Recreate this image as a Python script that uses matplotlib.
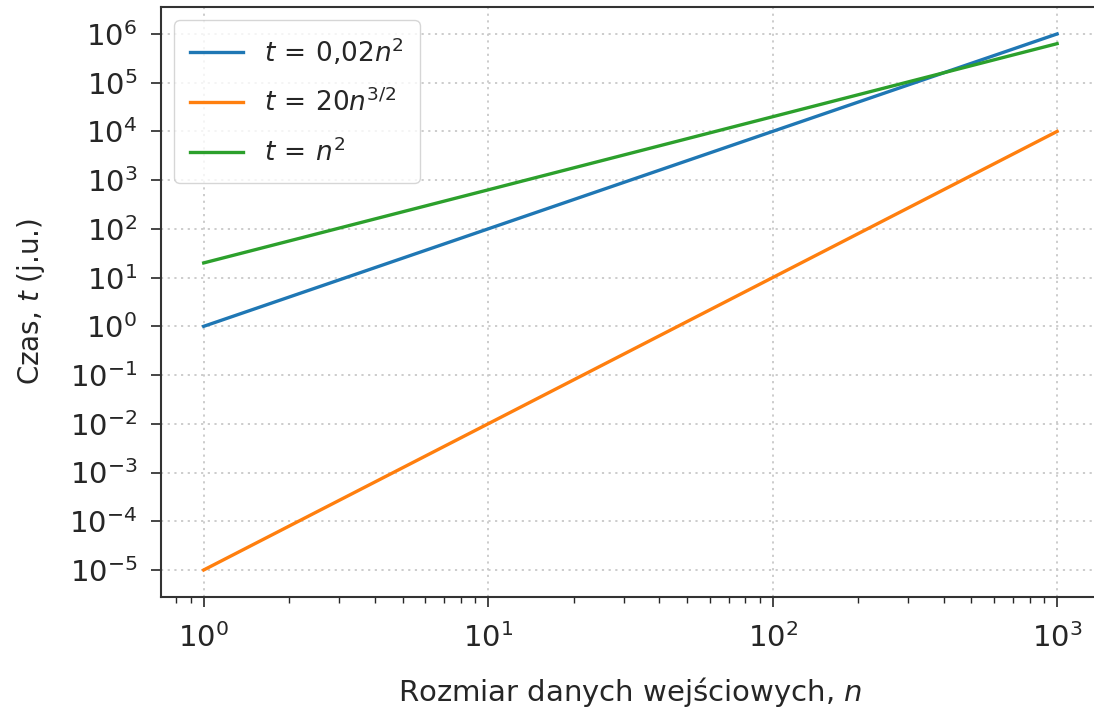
import matplotlib
matplotlib.use("Agg")
import matplotlib.pyplot as plt
from matplotlib.ticker import LogLocator, NullLocator

n = [1, 10, 100, 1000]
t_blue = [1.0, 1e2, 1e4, 1e6]
t_orange = [1e-5, 1e-2, 1e1, 1e4]
t_green = [20.0, 632.0, 2.0e4, 6.32e5]

labels = [r"$t\,=\,0{,}02n^2$", r"$t\,=\,20n^{3/2}$", r"$t\,=\,n^2$"]

text_color = "#262626"
plt.rcParams["text.color"] = text_color
plt.rcParams["axes.labelcolor"] = text_color
plt.rcParams["xtick.color"] = text_color
plt.rcParams["ytick.color"] = text_color

fig = plt.figure(figsize=(10.94, 7.13), dpi=100)
ax = fig.add_axes([0.1472, 0.163, 0.8581, 0.827])

ax.plot(n, t_blue, color="#1f77b4", lw=2.4, label=labels[0])
ax.plot(n, t_orange, color="#ff7f0e", lw=2.4, label=labels[1])
ax.plot(n, t_green, color="#2ca02c", lw=2.4, label=labels[2])

ax.set_xscale("log")
ax.set_yscale("log")
ax.yaxis.set_major_locator(LogLocator(base=10, numticks=30))
ax.yaxis.set_minor_locator(NullLocator())
ax.grid(True, which="major", linestyle=(0, (1.2, 2.5)), color="#c8c8c8", lw=1.3)

ax.tick_params(axis="both", which="major", labelsize=21, length=7, width=1.2)
ax.tick_params(axis="x", which="major", pad=12)
ax.tick_params(axis="y", which="major", pad=10)
ax.tick_params(axis="both", which="minor", length=4, width=1.0)
ax.set_xlabel("Rozmiar danych wejściowych, $n$", fontsize=21, labelpad=16)
ax.set_ylabel("Czas, $t$ (j.u.)", fontsize=20, labelpad=16)

for s in ax.spines.values():
    s.set_linewidth(1.5)
    s.set_color("#333333")

ax.legend(loc="upper left", fontsize=19, handlelength=2.0, labelspacing=0.8,
          borderpad=0.6, handletextpad=0.8, borderaxespad=0.5)

fig.savefig("out.png", dpi=100)
